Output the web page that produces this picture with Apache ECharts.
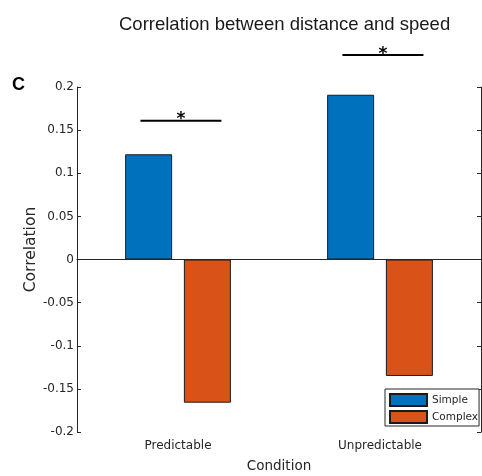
<!DOCTYPE html>
<html>
<head>
<meta charset="utf-8">
<script src="https://cdn.jsdelivr.net/npm/echarts@6/dist/echarts.min.js"></script>
<style>
  html, body { margin: 0; padding: 0; background: #fff; }
  #chart { width: 482px; height: 476px; }
</style>
</head>
<body>
<div id="chart"></div>
<script>
// Conditions on the x axis
const conditions = ['Predictable', 'Unpredictable'];
// Correlation between distance and speed per task type
const simpleValues = [0.122, 0.191];
const complexValues = [-0.166, -0.135];
// Significance brackets: condition index and bracket height
const sigCondition = [0, 1];
const sigHeight = [0.161, 0.237];
const sigLabel = ['*', '*'];
// Y axis range
const yMin = -0.2, yMax = 0.2, yStep = 0.05;

const ink = '#262626';
const tickFont = 'DejaVu Sans';

const chart = echarts.init(document.getElementById('chart'), null, { renderer: 'canvas' });

chart.setOption({
  animation: false,
  backgroundColor: '#ffffff',
  title: {
    text: 'Correlation between distance and speed',
    left: 114, top: 10,
    textStyle: { fontFamily: 'Liberation Sans', fontSize: 18.5, fontWeight: 'normal', color: '#1a1a1a' }
  },
  graphic: [{
    type: 'text', left: 12, top: 76,
    style: { text: 'C', fontFamily: 'Liberation Sans', fontSize: 18, fontWeight: 'bold', fill: '#000' }
  }],
  grid: { left: 77, right: 1, top: 87, bottom: 44, containLabel: false, outerBoundsMode: 'none' },
  legend: {
    data: ['Simple', 'Complex'],
    orient: 'vertical', left: 385, top: 389,
    icon: 'rect', itemWidth: 37, itemHeight: 12, itemGap: 3,
    padding: [4, 1, 2, 4],
    borderColor: ink, borderWidth: 1, backgroundColor: '#fff',
    textStyle: { fontFamily: tickFont, fontSize: 10.5, color: ink, lineHeight: 12 }
  },
  xAxis: {
    type: 'category', data: conditions, boundaryGap: true,
    name: 'Condition', nameLocation: 'middle', nameGap: 27, nameMoveOverlap: false,
    nameTextStyle: { fontFamily: tickFont, fontSize: 13.5, color: ink },
    axisLine: { lineStyle: { color: ink, width: 1 } },
    axisTick: { inside: true, length: 4, alignWithLabel: true, lineStyle: { color: ink } },
    axisLabel: { fontFamily: tickFont, fontSize: 12, color: ink, margin: 8 },
    splitLine: { show: false }
  },
  yAxis: [{
    type: 'value', min: yMin, max: yMax, interval: yStep,
    name: 'Correlation', nameLocation: 'middle', nameRotate: 90, nameGap: 38, nameMoveOverlap: false,
    nameTextStyle: { fontFamily: tickFont, fontSize: 15.5, color: ink, padding: [0, 0, 0, 20] },
    axisLine: { show: true, onZero: false, lineStyle: { color: ink, width: 1 } },
    axisTick: { show: true, inside: true, length: 4, lineStyle: { color: ink } },
    axisLabel: { fontFamily: tickFont, fontSize: 12, color: ink, margin: 3 },
    splitLine: { show: false }
  }, {
    type: 'value', min: yMin, max: yMax, interval: yStep, position: 'right',
    axisLine: { show: true, onZero: false, lineStyle: { color: ink, width: 1 } },
    axisTick: { show: true, inside: true, length: 4, lineStyle: { color: ink } },
    axisLabel: { show: false },
    splitLine: { show: false }
  }],
  series: [{
    name: 'Simple', type: 'bar', data: simpleValues,
    barWidth: 47, barGap: '25%',
    itemStyle: { color: '#0072BD', borderColor: '#1a1a1a', borderWidth: 1 },
    markLine: {
      silent: true, symbol: 'none', label: { show: false },
      lineStyle: { color: ink, width: 1, type: 'solid' },
      data: [{ yAxis: 0 }]
    }
  }, {
    name: 'Complex', type: 'bar', data: complexValues,
    barWidth: 47,
    itemStyle: { color: '#D95319', borderColor: '#1a1a1a', borderWidth: 1 }
  }, {
    name: 'significance', type: 'custom', clip: false, silent: true, z: 10,
    data: sigCondition.map((c, i) => [c, sigHeight[i], sigLabel[i]]),
    renderItem: function (params, api) {
      const p = api.coord([api.value(0), api.value(1)]);
      const band = api.size([1, 0])[0];
      const x0 = p[0] - band * 0.186;
      const x1 = p[0] + band * 0.215;
      const cx = (x0 + x1) / 2;
      return {
        type: 'group',
        children: [{
          type: 'line',
          shape: { x1: x0, y1: p[1], x2: x1, y2: p[1] },
          style: { stroke: '#000', lineWidth: 2 }
        }, {
          type: 'text',
          style: {
            text: sigLabel[params.dataIndex], x: cx, y: p[1] - 1,
            align: 'center', verticalAlign: 'middle',
            font: 'bold 17px "DejaVu Sans"', fill: '#000'
          }
        }]
      };
    }
  }]
});
</script>
</body>
</html>
